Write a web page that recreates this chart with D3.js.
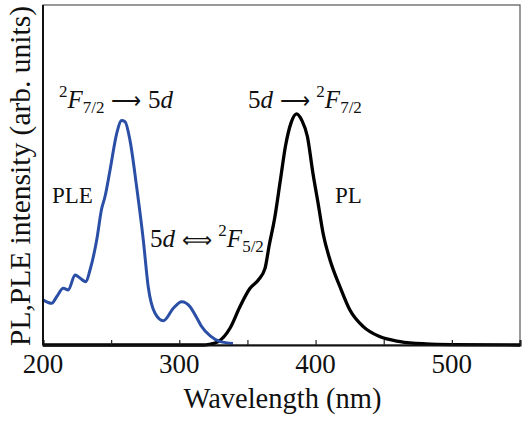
<!DOCTYPE html>
<html>
<head>
<meta charset="utf-8">
<script src="https://cdn.jsdelivr.net/npm/d3@7"></script>
<style>
  body { margin: 0; background: #fff; }
  svg text { font-family: "Liberation Serif", "Times New Roman", serif; fill: #111; }
</style>
</head>
<body>
<div id="chart"></div>
<script>
// PLE (excitation) spectrum
const pleWl  = [200, 206.4, 210, 214.9, 218.6, 223.5, 225.9, 231.5, 234.5, 239.4, 243, 245.5, 249.2, 254.1, 257.7, 260.2, 263.8, 268.7, 273.6, 277.2, 282.2, 288.3, 295.6, 301.8, 307.9, 312.8, 316, 322.7, 330, 339.4];
const pleVal = [0.199, 0.184, 0.213, 0.25, 0.243, 0.309, 0.301, 0.279, 0.331, 0.463, 0.6, 0.655, 0.772, 0.934, 0.99, 0.985, 0.904, 0.698, 0.463, 0.257, 0.14, 0.107, 0.162, 0.191, 0.169, 0.12, 0.085, 0.04, 0.015, 0.007];

// PL (emission) spectrum
const plWl  = [200, 300, 318, 322, 328.6, 337.2, 344.5, 351.9, 358, 362.9, 366, 370, 374, 378, 382, 386, 390, 394, 398, 402, 405.6, 410.6, 417.9, 425.2, 435, 447, 462, 481, 500, 550];
const plVal = [0, 0, 0, 0.003, 0.015, 0.074, 0.169, 0.25, 0.287, 0.338, 0.44, 0.56, 0.72, 0.88, 0.98, 1.02, 0.99, 0.92, 0.76, 0.62, 0.49, 0.375, 0.257, 0.154, 0.081, 0.037, 0.015, 0.005, 0.002, 0];

const xTicks = [200, 250, 300, 350, 400, 450, 500, 550];
const xLabels = [200, 300, 400, 500];

const width = 523, height = 422;
const margin = {top: 5, right: 3, bottom: 77, left: 43};

const svg = d3.select("#chart").append("svg")
    .attr("width", width)
    .attr("height", height);

const x = d3.scaleLinear()
    .domain([200, 550])
    .range([margin.left, width - margin.right]);

const y = d3.scaleLinear()
    .domain([0, 1.5])
    .range([height - margin.bottom, margin.top]);

const x0 = x.range()[0], x1 = x.range()[1];
const y0 = y.range()[0], y1 = y.range()[1];

// thin frame (top / right)
svg.append("rect")
    .attr("x", x0).attr("y", y1)
    .attr("width", x1 - x0).attr("height", y0 - y1)
    .attr("fill", "none")
    .attr("stroke", "#555")
    .attr("stroke-width", 1.2);

// curves
const line = d3.line()
    .x(d => x(d[0]))
    .y(d => y(d[1]))
    .curve(d3.curveMonotoneX);

svg.append("path")
    .datum(d3.zip(plWl, plVal))
    .attr("fill", "none")
    .attr("stroke", "#000")
    .attr("stroke-width", 3.3)
    .attr("stroke-linejoin", "round")
    .attr("d", line);

svg.append("path")
    .datum(d3.zip(pleWl, pleVal))
    .attr("fill", "none")
    .attr("stroke", "#2b4fa6")
    .attr("stroke-width", 3)
    .attr("stroke-linejoin", "round")
    .attr("d", line);

// bottom axis, ticks pointing inward
const xAxis = svg.append("g")
    .attr("transform", `translate(0,${y0})`)
    .call(d3.axisBottom(x).tickValues(xTicks).tickSize(-5).tickFormat(""));
xAxis.select(".domain").attr("stroke", "#111").attr("stroke-width", 2);
xAxis.selectAll(".tick line").attr("stroke", "#222").attr("stroke-width", 1.2);

svg.selectAll(".xlabel")
    .data(xLabels)
    .join("text")
    .attr("class", "xlabel")
    .attr("x", d => x(d))
    .attr("y", y0 + 28)
    .attr("text-anchor", "middle")
    .style("font-size", "27px")
    .text(d => d);

// left axis line
svg.append("line")
    .attr("x1", x0).attr("x2", x0)
    .attr("y1", y1).attr("y2", y0)
    .attr("stroke", "#111")
    .attr("stroke-width", 2);

// axis titles
svg.append("text")
    .attr("x", (x0 + x1) / 2 + 1)
    .attr("y", 408)
    .attr("text-anchor", "middle")
    .style("font-size", "28.5px")
    .text("Wavelength (nm)");

svg.append("text")
    .attr("transform", `translate(30,${(y0 + y1) / 2 + 1}) rotate(-90)`)
    .attr("text-anchor", "middle")
    .style("font-size", "29.5px")
    .text("PL,PLE intensity (arb. units)");

// annotations: term symbols with super/subscripts
function transition(xp, yp, parts) {
    const t = svg.append("text")
        .attr("x", xp).attr("y", yp)
        .style("font-size", "25px");
    parts.forEach(p => {
        const s = t.append("tspan").text(p.t);
        if (p.i) s.style("font-style", "italic");
        if (p.sup) s.attr("dy", -11).style("font-size", "17px");
        if (p.sub) s.attr("dy", 5).style("font-size", "17px");
        if (p.arrow) s.style("font-family", "DejaVu Sans").style("font-size", "21px").style("font-weight", 300);
        if (p.back) s.attr("dy", p.back);
    });
    return t;
}

transition(59, 108, [
    {t: "2", sup: true},
    {t: "F", i: true, back: 11},
    {t: "7/2", sub: true},
    {t: " ⟶ ", arrow: true, back: -5},
    {t: "5"},
    {t: "d", i: true}
]);

transition(248, 108, [
    {t: "5"},
    {t: "d", i: true},
    {t: " ⟶ ", arrow: true},
    {t: "2", sup: true},
    {t: "F", i: true, back: 11},
    {t: "7/2", sub: true}
]);

transition(150, 247, [
    {t: "5"},
    {t: "d", i: true},
    {t: " ⟺ ", arrow: true},
    {t: "2", sup: true},
    {t: "F", i: true, back: 11},
    {t: "5/2", sub: true}
]);

svg.append("text")
    .attr("x", 52).attr("y", 203)
    .style("font-size", "23px")
    .text("PLE");

svg.append("text")
    .attr("x", 335).attr("y", 203)
    .style("font-size", "23px")
    .text("PL");
</script>
</body>
</html>
